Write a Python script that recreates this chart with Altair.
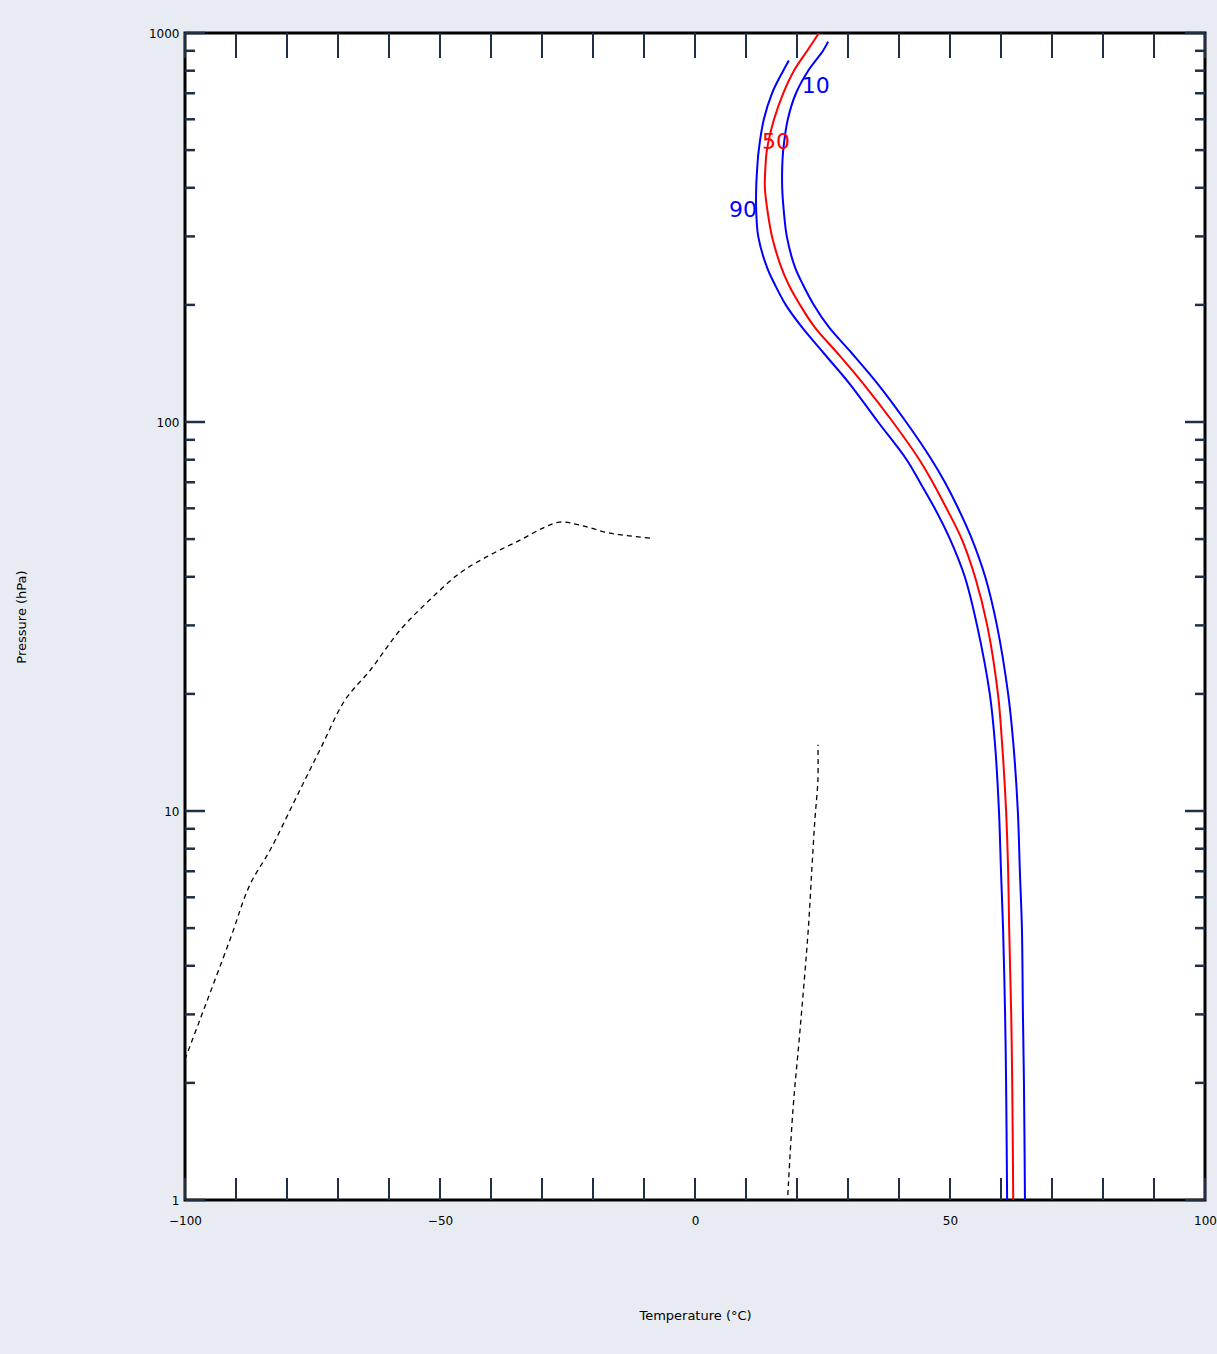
import altair as alt
import pandas as pd

# ---------------- data ----------------
# 50th percentile (red)
p50_levels = [1000, 900, 800, 700, 600, 500, 450, 400, 350, 300, 250, 225, 200, 175, 150, 125, 100,
              80, 70, 60, 50, 40, 30, 20, 15, 10, 7, 5, 3, 2, 1]
p50_vals = [24.3, 22.0, 19.4, 17.3, 15.5, 14.1, 13.8, 13.7, 14.2, 15.1, 16.9, 18.4, 20.6, 23.5, 28.0, 33.1, 38.8,
            44.0, 46.6, 49.3, 52.3, 54.9, 57.3, 59.4, 60.2, 61.0, 61.4, 61.6, 62.0, 62.2, 62.4]

# 90th percentile curve (blue, left)
p90_levels = [850, 800, 700, 600, 500, 450, 400, 350, 300, 250, 225, 200, 175, 150, 125, 100,
              80, 70, 60, 50, 40, 30, 20, 15, 10, 7, 5, 3, 2, 1]
p90_vals = [18.4, 17.3, 15.1, 13.5, 12.5, 12.2, 12.0, 12.0, 12.4, 14.1, 15.7, 17.8, 21.0, 25.3, 30.4, 35.9,
            41.5, 44.1, 47.0, 50.0, 52.9, 55.3, 57.8, 58.8, 59.6, 60.0, 60.4, 60.8, 61.0, 61.2]

# 10th percentile curve (blue, right)
p10_levels = [950, 900, 800, 700, 600, 500, 450, 400, 350, 300, 250, 225, 200, 175, 150, 125, 100,
              80, 70, 60, 50, 40, 30, 20, 15, 10, 7, 5, 3, 2, 1]
p10_vals = [26.1, 25.1, 22.2, 19.8, 18.2, 17.3, 17.1, 17.1, 17.4, 18.0, 19.6, 21.2, 23.3, 26.3, 30.8, 35.9, 41.4,
            46.4, 49.0, 51.6, 54.3, 56.9, 59.2, 61.4, 62.4, 63.3, 63.7, 64.1, 64.3, 64.5, 64.7]

# dashed black curves
dash1_x = [-100.0, -97.1, -91.2, -87.3, -83.3, -77.5, -73.5, -68.6, -63.7, -57.8,
           -52.0, -46.1, -40.2, -34.3, -29.4, -26.5, -22.5, -16.7, -8.8]
dash1_y = [2.3, 2.9, 4.66, 6.45, 7.94, 11.3, 14.4, 19.3, 23.0, 29.2,
           34.9, 40.9, 45.5, 49.7, 53.7, 55.3, 54.3, 51.8, 50.3]
dash2_x = [18.2, 19.2, 20.6, 22.2, 22.9, 23.5, 24.1, 24.1]
dash2_y = [1.03, 1.70, 2.74, 4.94, 7.05, 9.48, 12.0, 14.8]

# curve labels
label_text = ["10", "50", "90"]
label_x = [23.7, 15.9, 9.4]
label_y = [731, 525, 351]
label_color = ["#0000ff", "#ff0000", "#0000ff"]

# axis ticks
x_labels = [-100, -50, 0, 50, 100]
x_ticks = list(range(-100, 101, 10))
y_labels = [1, 10, 100, 1000]
y_minor = [2, 3, 4, 5, 6, 7, 8, 9, 20, 30, 40, 50, 60, 70, 80, 90,
           200, 300, 400, 500, 600, 700, 800, 900]

x_title = "Temperature (°C)"
y_title = "Pressure (hPa)"

# ---------------- tables ----------------
rows = []
for name, col, lv, vv in [("p90", "#0000ff", p90_levels, p90_vals),
                          ("p50", "#ff0000", p50_levels, p50_vals),
                          ("p10", "#0000ff", p10_levels, p10_vals)]:
    for i, (yy, xx) in enumerate(zip(lv, vv)):
        rows.append({"x": xx, "y": yy, "s": name, "c": col, "i": i})
prof = pd.DataFrame(rows)

drows = []
for name, xs, ys in [("d1", dash1_x, dash1_y), ("d2", dash2_x, dash2_y)]:
    for i, (xx, yy) in enumerate(zip(xs, ys)):
        drows.append({"x": xx, "y": yy, "s": name, "i": i})
dash = pd.DataFrame(drows)

labels = pd.DataFrame({"x": label_x, "y": label_y, "t": label_text, "c": label_color})
xt = pd.DataFrame({"x": x_ticks})
ymaj = pd.DataFrame({"y": y_labels})
ymin = pd.DataFrame({"y": y_minor})

W, H = 1020, 1167
xscale = alt.Scale(domain=[-100, 100], nice=False, zero=False)
yscale = alt.Scale(type="log", domain=[1, 1000], nice=False)

xaxis = alt.Axis(values=x_labels, title=x_title, ticks=False, domain=False, grid=False,
                 labelFlush=False, labelPadding=15, labelFontSize=12, labelColor="#000000",
                 labelFont="DejaVu Sans", titleFont="DejaVu Sans", titleFontSize=13,
                 titleFontWeight="normal", titleColor="#000000", titlePadding=83)
yaxis = alt.Axis(values=y_labels, title=y_title, ticks=False, domain=False, grid=False,
                 labelFlush=False, labelPadding=6, labelFontSize=12, labelColor="#000000",
                 format="d", labelFont="DejaVu Sans", titleFont="DejaVu Sans",
                 titleFontSize=13, titleFontWeight="normal", titleColor="#000000",
                 titlePadding=120)


def X():
    return alt.X("x:Q", scale=xscale, axis=xaxis)


def Y():
    return alt.Y("y:Q", scale=yscale, axis=yaxis)


tick_col = "#1f3044"

lines = alt.Chart(prof).mark_line(strokeWidth=2, clip=True, interpolate="catmull-rom").encode(
    x=X(), y=Y(), color=alt.Color("c:N", scale=None), detail="s:N", order="i:Q")

dashed = alt.Chart(dash).mark_line(strokeWidth=1.3, color="#000000", strokeDash=[5, 4],
                                   clip=True, interpolate="catmull-rom").encode(
    x=X(), y=Y(), detail="s:N", order="i:Q")

text = alt.Chart(labels).mark_text(fontSize=22, font="DejaVu Sans").encode(
    x=X(), y=Y(), text="t:N", color=alt.Color("c:N", scale=None))

xt_top = alt.Chart(xt).mark_rule(color=tick_col, strokeWidth=2).encode(
    x=X(), y=alt.value(0), y2=alt.value(25))
xt_bot = alt.Chart(xt).mark_rule(color=tick_col, strokeWidth=2).encode(
    x=X(), y=alt.value(H), y2=alt.value(H - 22))

yl_min = alt.Chart(ymin).mark_rule(color=tick_col, strokeWidth=2.5).encode(
    y=Y(), x=alt.value(0), x2=alt.value(10))
yr_min = alt.Chart(ymin).mark_rule(color=tick_col, strokeWidth=2.5).encode(
    y=Y(), x=alt.value(W), x2=alt.value(W - 10))
yl_maj = alt.Chart(ymaj).mark_rule(color=tick_col, strokeWidth=2.5).encode(
    y=Y(), x=alt.value(0), x2=alt.value(20))
yr_maj = alt.Chart(ymaj).mark_rule(color=tick_col, strokeWidth=2.5).encode(
    y=Y(), x=alt.value(W), x2=alt.value(W - 20))

chart = alt.layer(
    xt_top, xt_bot, yl_min, yr_min, yl_maj, yr_maj, dashed, lines, text
).properties(
    width=W, height=H,
    autosize=alt.AutoSizeParams(type="none"),
    padding={"left": 185, "top": 33, "right": 12, "bottom": 154},
    background="#e8ecf2",
).configure_view(
    fill="#ffffff", stroke="#000000", strokeWidth=3
)

chart.save("out.html", embed_options={"renderer": "svg", "actions": False})
